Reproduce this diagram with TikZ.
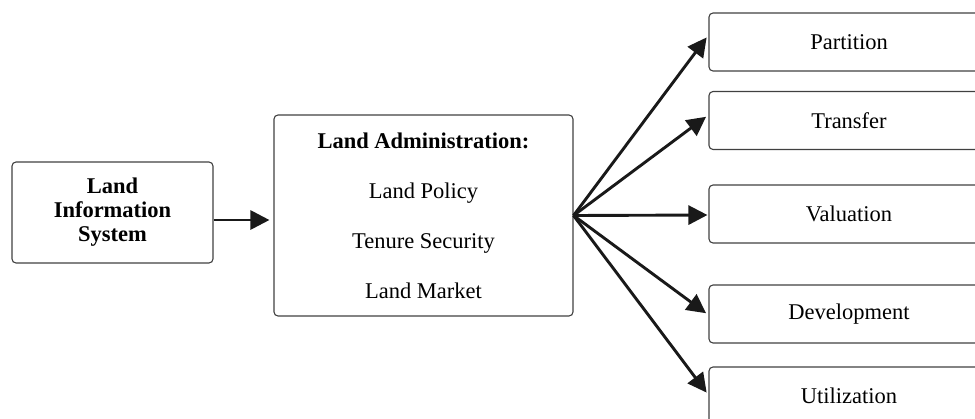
\documentclass[tikz,border=0pt]{standalone}
\usepackage{fontspec}
\setmainfont{Liberation Serif}
\usetikzlibrary{arrows.meta}
\begin{document}
\begin{tikzpicture}[x=1pt,y=-1pt,
  box/.style={draw=black!75, line width=1.1pt, rounded corners=4pt, inner sep=0pt,
    align=center, font=\fontsize{22.5}{24}\selectfont},
  outbox/.style={box, minimum width=280pt, minimum height=58pt},
  arr/.style={line width=2.9pt, draw=black!90, line cap=butt,
    -{Triangle[length=19pt,width=19pt]}, shorten >=3pt}]
\useasboundingbox (0,0) rectangle (975,418);
\clip (0,0) rectangle (975,418);

% source system
\node[box, minimum width=201pt, minimum height=101pt,
  font=\fontsize{22.5}{24}\selectfont\bfseries] (lis) at (112.5,212.5)
  {Land\\Information\\System};

% land administration block
\node[box, minimum width=299pt, minimum height=201pt,
  font=\fontsize{22.5}{50}\selectfont] (adm) at (423.5,215.5)
  {\textbf{Land Administration:}\\Land Policy\\Tenure Security\\Land Market};

% outcome boxes
\node[outbox] (part) at (849,42)    {Partition};
\node[outbox] (tran) at (849,120.5) {Transfer};
\node[outbox] (valu) at (849,214)   {Valuation};
\node[outbox] (deve) at (849,314)   {Development};
\node[outbox] (util) at (849,396)   {Utilization};

% connectors
\coordinate (hub) at (adm.east);
\draw[arr, shorten >=4pt] ([yshift=-7.5pt]lis.east) -- ([yshift=-4.5pt]adm.west);
\draw[arr] (hub) -- ([yshift=7pt]part.west);
\draw[arr] (hub) -- ([yshift=5.5pt]tran.west);
\draw[arr, shorten >=1pt] (hub) -- ([yshift=-1pt]valu.west);
\draw[arr] (hub) -- ([yshift=-1pt]deve.west);
\draw[arr] (hub) -- ([yshift=1pt]util.west);
\end{tikzpicture}
\end{document}
